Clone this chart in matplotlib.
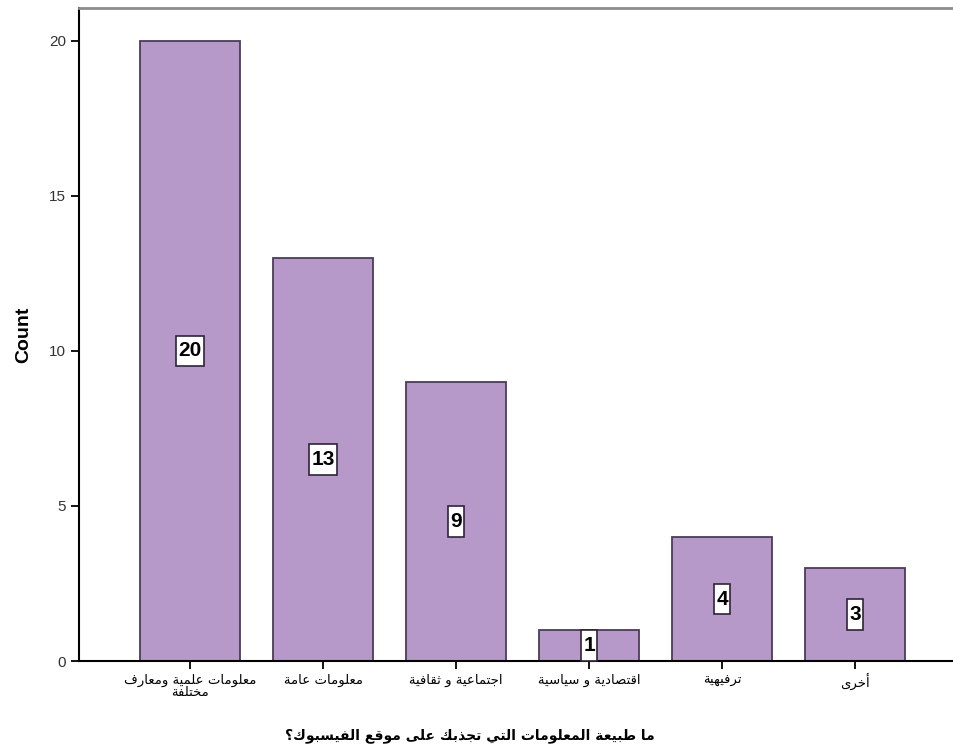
import matplotlib
matplotlib.use("Agg")
import matplotlib.pyplot as plt
from matplotlib.path import Path
import numpy as np

# data
categories = ["معلومات علمية ومعارف\nمختلفة", "معلومات عامة", "اجتماعية و ثقافية",
              "اقتصادية و سياسية", "ترفيهية", "أخرى"]
counts = [20, 13, 9, 1, 4, 3]
yticks = [0, 5, 10, 15, 20]
xlabel = "ما طبيعة المعلومات التي تجذبك على موقع الفيسبوك؟"
ylabel = "Count"


# matplotlib has no arabic shaping, so pick presentation forms by hand
def build_forms():
    counts_per_letter = [(0x621, 1), (0x622, 2), (0x623, 2), (0x624, 2), (0x625, 2), (0x626, 4),
                         (0x627, 2), (0x628, 4), (0x629, 2), (0x62A, 4), (0x62B, 4), (0x62C, 4),
                         (0x62D, 4), (0x62E, 4), (0x62F, 2), (0x630, 2), (0x631, 2), (0x632, 2),
                         (0x633, 4), (0x634, 4), (0x635, 4), (0x636, 4), (0x637, 4), (0x638, 4),
                         (0x639, 4), (0x63A, 4), (0x641, 4), (0x642, 4), (0x643, 4), (0x644, 4),
                         (0x645, 4), (0x646, 4), (0x647, 4), (0x648, 2), (0x649, 2), (0x64A, 4)]
    forms = {}
    base = 0xFE80
    for cp, n in counts_per_letter:
        forms[chr(cp)] = [chr(base + k) for k in range(n)]
        base += n
    return forms


FORMS = build_forms()


def shape_line(s):
    def joins_next(c):
        return c in FORMS and len(FORMS[c]) == 4

    out = []
    chars = list(s)
    for i, c in enumerate(chars):
        if c not in FORMS:
            out.append(c)
            continue
        f = FORMS[c]
        prev = chars[i - 1] if i > 0 else ""
        nxt = chars[i + 1] if i + 1 < len(chars) else ""
        linked_prev = joins_next(prev)
        linked_next = len(f) == 4 and nxt in FORMS
        if len(f) == 1:
            out.append(f[0])
        elif linked_prev and linked_next:
            out.append(f[3])
        elif linked_prev:
            out.append(f[1])
        elif linked_next:
            out.append(f[2])
        else:
            out.append(f[0])
    return "".join(out)[::-1]


def ar(s):
    return "\n".join(shape_line(line) for line in s.split("\n"))


# label boxes are taller than wide, like the spss ones
def tall_box(x0, y0, width, height, mutation_size):
    px = 0.1 * mutation_size
    py = 0.28 * mutation_size
    x0, y0 = x0 - px, y0 - py
    x1, y1 = x0 + width + 2 * px, y0 + height + 2 * py
    return Path([(x0, y0), (x1, y0), (x1, y1), (x0, y1), (x0, y0)], closed=True)


fig = plt.figure(figsize=(9.54, 7.51), dpi=100)
ax = fig.add_axes([0.0828, 0.1198, 0.9172, 0.8695])

x = np.arange(len(counts))
ax.bar(x, counts, width=0.752, color="#b699c9", edgecolor="#4b3d58", linewidth=1.3, zorder=2)

for xi, c in zip(x, counts):
    ax.text(xi, c / 2, str(c), ha="center", va="center", fontsize=15, fontweight="bold",
            family=["Liberation Sans", "DejaVu Sans"], zorder=3,
            bbox=dict(boxstyle=tall_box, facecolor="white", edgecolor="#2e2438", linewidth=1.2))

ax.set_xlim(-0.835, 5.744)
ax.set_ylim(0, 21.06)
ax.set_yticks(yticks)
ax.set_yticklabels([str(t) for t in yticks], fontsize=11, color="#333333",
                   family=["Liberation Sans", "DejaVu Sans"])
ax.set_xticks(x)
ax.set_xticklabels([ar(c) for c in categories], fontsize=9.5, family="DejaVu Sans",
                   linespacing=0.85)
ax.tick_params(axis="both", direction="out", length=6, width=1.3, color="black")

ax.set_ylabel(ylabel, fontsize=14, fontweight="bold", family=["Liberation Sans", "DejaVu Sans"], labelpad=12)
fig.text(470 / 954, 1 - 736 / 751, ar(xlabel), ha="center", va="center", fontsize=10,
         fontweight="bold", family="DejaVu Sans")

ax.spines["right"].set_visible(False)
ax.spines["top"].set_color("#8c8c8c")
ax.spines["top"].set_linewidth(2)
ax.spines["left"].set_linewidth(1.5)
ax.spines["bottom"].set_linewidth(1.5)

fig.savefig("out.png", dpi=100)
